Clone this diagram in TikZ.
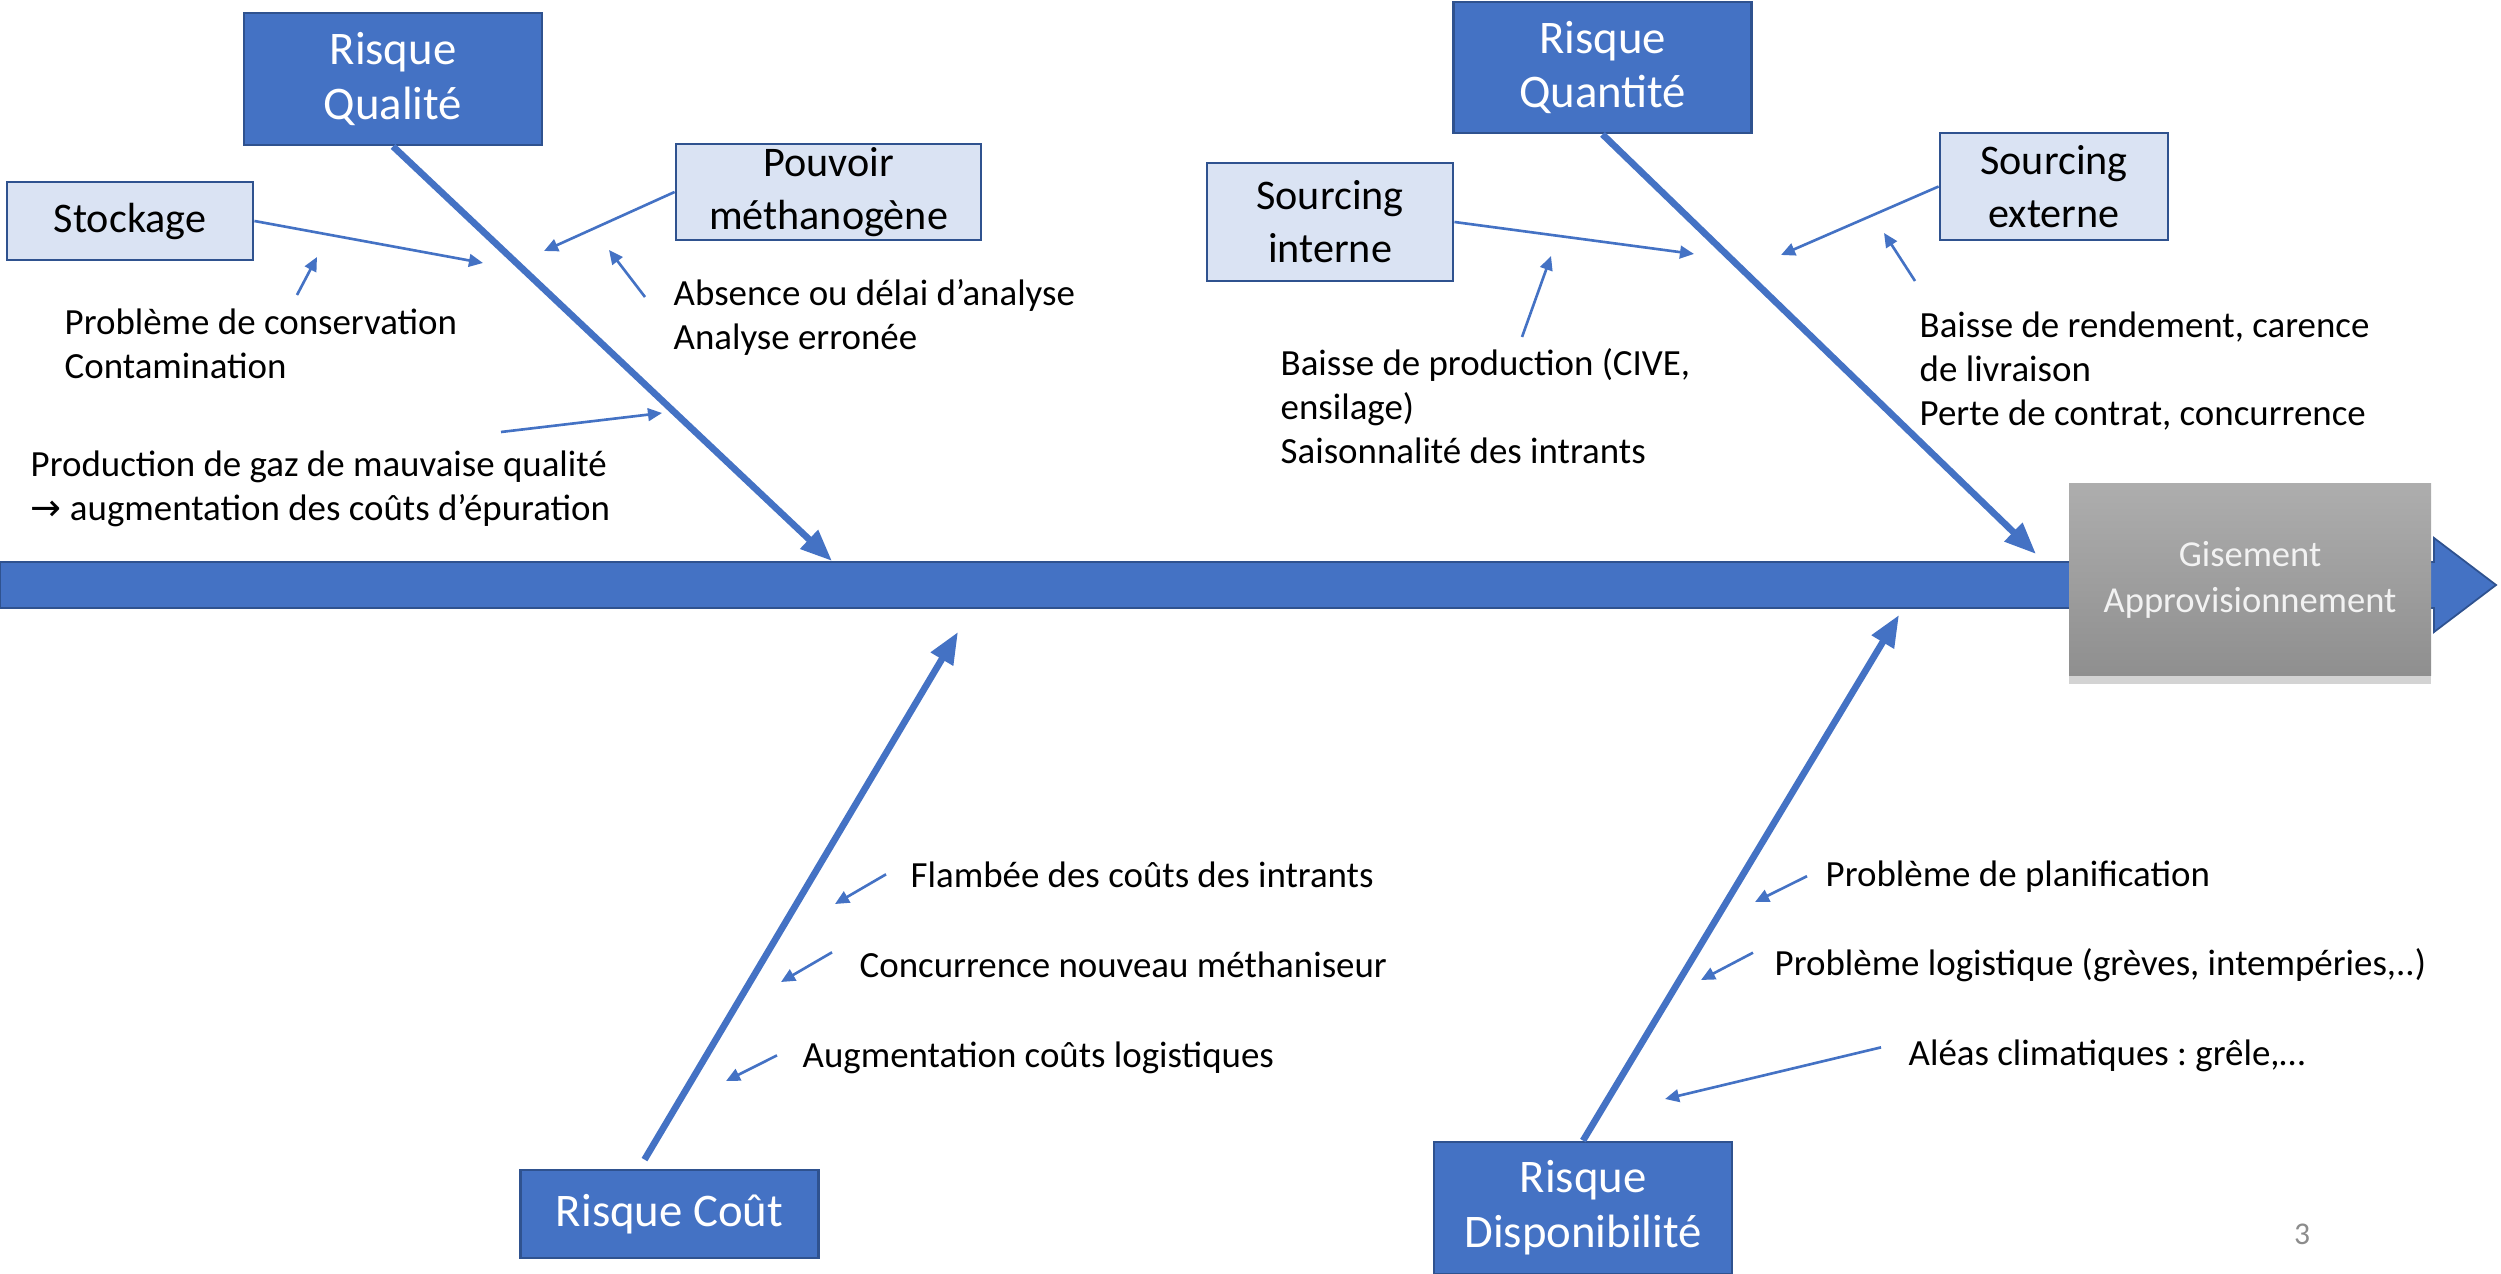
\documentclass[tikz,border=0pt]{standalone}
\usepackage{fontspec}
\setmainfont{Carlito}
\newfontfamily\symfont{DejaVu Sans}
\usepackage{tikz}
\usetikzlibrary{arrows.meta,calc,shadows}

\definecolor{riskblue}{HTML}{4472C4}
\definecolor{riskedge}{HTML}{2F528F}
\definecolor{subfill}{HTML}{DAE3F3}
\definecolor{pagegray}{HTML}{8C8C8C}

\tikzset{
	risk/.style={draw=riskedge, line width=0.8pt, fill=riskblue, text=white, align=center, inner sep=0pt, minimum width=2.98cm, font=\fontsize{13.3}{15.6}\selectfont},
	sub/.style={draw=riskedge, line width=0.8pt, fill=subfill, align=center, inner sep=0pt, font=\fontsize{12}{15}\selectfont},
	cause/.style={align=left, inner sep=0pt, anchor=base west, font=\fontsize{10.5}{12.6}\selectfont},
	gis/.style={top color=black!32, bottom color=black!44, text=black!5, align=center, inner sep=0pt, drop shadow={shadow xshift=0pt, shadow yshift=-0.08cm, opacity=0.35}, font=\fontsize{10.4}{13}\selectfont},
	bone/.style={riskblue, line width=1.9pt, -{Triangle[length=9pt,width=7pt]}},
	twig/.style={riskblue, line width=0.75pt, -{Triangle[length=4pt,width=3.6pt]}}
}

\begin{document}
\frenchspacing
\begin{tikzpicture}
		\useasboundingbox (0,0) rectangle (25.01,-12.74);
		\filldraw[fill=riskblue, draw=riskedge, line width=0.5pt] (0,-5.62) -- (24.34,-5.62) -- (24.34,-5.38) -- (24.96,-5.85) -- (24.34,-6.32) -- (24.34,-6.08) -- (0,-6.08) -- cycle;
		\node[gis, minimum width=3.62cm, minimum height=1.92cm] (gis) at (22.50,-5.80) {Gisement\\Approvisionnement};
		
		\node[risk, minimum height=1.32cm] (qual) at (3.93,-0.79) {Risque\\Qualité};
		\node[risk, minimum height=1.31cm] (quant) at (16.025,-0.675) {Risque\\Quantité};
		\node[risk, minimum height=0.88cm] (cout) at (6.695,-12.14) {Risque Coût};
		\node[risk, minimum height=1.32cm] (dispo) at (15.83,-12.08) {Risque\\Disponibilité};
		
		\node[sub, minimum width=2.46cm, minimum height=0.78cm] (stock) at (1.30,-2.21) {Stockage};
		\node[sub, minimum width=3.05cm, minimum height=0.96cm] (pouv) at (8.285,-1.92) {Pouvoir\\méthanogène};
		\node[sub, minimum width=2.46cm, minimum height=1.18cm] (intern) at (13.30,-2.22) {Sourcing\\interne};
		\node[sub, minimum width=2.28cm, minimum height=1.07cm] (extern) at (20.54,-1.865) {Sourcing\\externe};
		
		\node[cause] (cons) at (0.64,-3.79) {Problème de conservation\\Contamination};
		\node[cause] (anal) at (6.73,-3.50) {Absence ou délai d’analyse\\Analyse erronée};
		\node[cause] (gaz) at (0.30,-5.21) {Production de gaz de mauvaise qualité\\{\symfont →} augmentation des coûts d’épuration};
		\node[cause] (bprod) at (12.80,-4.64) {Baisse de production (CIVE,\\ensilage)\\Saisonnalité des intrants};
		\node[cause] (brend) at (19.19,-4.26) {Baisse de rendement, carence\\de livraison\\Perte de contrat, concurrence};
		\node[cause] (flam) at (9.10,-8.87) {Flambée des coûts des intrants};
		\node[cause] (conc) at (8.59,-9.77) {Concurrence nouveau méthaniseur};
		\node[cause] (augm) at (8.02,-10.67) {Augmentation coûts logistiques};
		\node[cause] (plan) at (18.25,-8.86) {Problème de planification};
		\node[cause] (logi) at (17.74,-9.75) {Problème logistique (grèves, intempéries,..)};
		\node[cause] (alea) at (19.08,-10.65) {Aléas climatiques : grêle,…};
		\node[text=pagegray, font=\fontsize{9}{11}\selectfont] (pnum) at (23.02,-12.34) {3};
		
		\coordinate (qtip) at (8.32,-5.61);
		\coordinate (qttip) at (20.36,-5.54);
		\coordinate (ctip) at (9.58,-6.32);
		\coordinate (dtip) at (18.99,-6.15);
		\coordinate (stockend) at (4.83,-2.63);
		\coordinate (pouvend) at (5.44,-2.51);
		\coordinate (consend) at (3.17,-2.57);
		\coordinate (analend) at (6.09,-2.50);
		\coordinate (gazend) at (6.62,-4.13);
		\coordinate (internend) at (16.94,-2.54);
		\coordinate (externend) at (17.81,-2.55);
		\coordinate (bprodend) at (15.51,-2.56);
		\coordinate (brendend) at (18.84,-2.33);
		\coordinate (flamend) at (8.35,-9.04);
		\coordinate (concend) at (7.81,-9.82);
		\coordinate (augmend) at (7.26,-10.81);
		\coordinate (planend) at (17.55,-9.02);
		\coordinate (logiend) at (17.01,-9.80);
		\coordinate (aleaend) at (16.65,-10.99);
		
		\path[bone]
		(qual.south) edge (qtip)
		(quant.south) edge (qttip)
		($(cout.north)+(-0.25,0.09)$) edge (ctip)
		(dispo.north) edge (dtip)
		;
		\path[twig]
		(stock.east) edge (stockend)
		(pouv.west) edge (pouvend)
		(intern.east) edge (internend)
		(extern.west) edge (externend)
		($(cons.base west)+(2.33,0.84)$) edge (consend)
		($(anal.base west)+(-0.28,0.53)$) edge (analend)
		($(gaz.base west)+(4.71,0.89)$) edge (gazend)
		($(bprod.base west)+(2.42,1.27)$) edge (bprodend)
		($(brend.base west)+(-0.04,1.45)$) edge (brendend)
		($(flam.west)+(-0.24,0)$) edge (flamend)
		($(conc.west)+(-0.27,0.12)$) edge (concend)
		($(augm.west)+(-0.25,0.02)$) edge (augmend)
		($(plan.west)+(-0.18,0)$) edge (planend)
		($(logi.west)+(-0.21,0.12)$) edge (logiend)
		($(alea.west)+(-0.27,0.08)$) edge (aleaend)
		;
\end{tikzpicture}
\end{document}
